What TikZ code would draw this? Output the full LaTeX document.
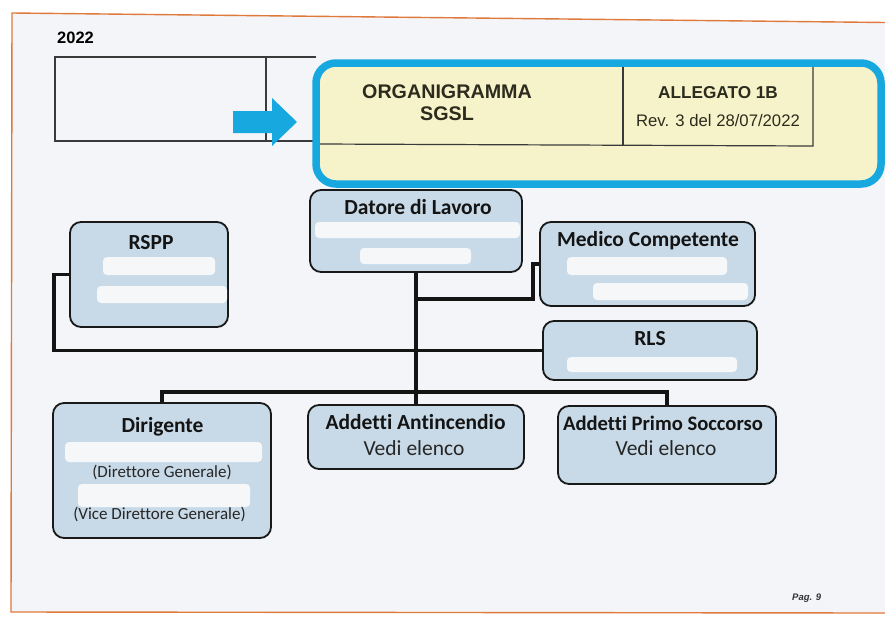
\documentclass[tikz,border=0pt]{standalone}
\usepackage{fontspec}
\setmainfont{Carlito}[Ligatures={NoCommon}]
\newfontfamily\arialf{Liberation Sans}

\definecolor{paper}{HTML}{F4F5F8}
\definecolor{boxfill}{HTML}{C8DAE7}
\definecolor{blot}{HTML}{F6F7F9}
\definecolor{hlblue}{HTML}{18A8E0}
\definecolor{hlyellow}{HTML}{F6F2CA}
\definecolor{ink}{HTML}{2C2C1E}
\definecolor{pageedge}{HTML}{E07A3C}
\definecolor{rule}{HTML}{3A3A3A}

\begin{document}
\begin{tikzpicture}[x=1pt,y=-1pt,
  orgbox/.style={draw=black!90, line width=1.8pt, fill=boxfill, rounded corners=11pt,
    inner sep=0pt, minimum width=#1},
  wire/.style={line width=3.4pt, draw=black!92},
  title/.style={font=\bfseries\fontsize{21.5}{25}\selectfont, inner sep=0pt, anchor=base, text=black!92},
  sub/.style={font=\fontsize{21.5}{25}\selectfont, inner sep=0pt, anchor=base, text=black!85},
  small/.style={font=\fontsize{17}{20}\selectfont, inner sep=0pt, anchor=base, text=black!85},
  redact/.style={fill=blot, draw=none, rounded corners=4pt},
  hdr/.style={font=\arialf\bfseries\fontsize{19.7}{23}\selectfont, inner sep=0pt, anchor=base, text=ink},
  hdrsmall/.style={font=\arialf\bfseries\fontsize{17.2}{20}\selectfont, inner sep=0pt, anchor=base, text=ink},
  hdrreg/.style={font=\arialf\fontsize{16.7}{20}\selectfont, inner sep=0pt, anchor=base, text=ink},
  tabline/.style={draw=rule, line width=1.2pt}
]
\useasboundingbox (0,0) rectangle (885,618);

% sheet
\fill[white] (0,0) rectangle (885,618);
\fill[paper] (12,13) -- (885,22.5) -- (885,613) -- (11,612) -- cycle;
\draw[pageedge, line width=1.4pt] (885,22.5) -- (12,13) -- (11,612) -- (885,613);

% year
\node[font=\arialf\bfseries\fontsize{16.5}{20}\selectfont, inner sep=0pt, anchor=base west, text=black] (year) at (57,43.5) {2022};

% header table, left part
\draw[tabline] (316,57) -- (55,57) -- (55,141) -- (316,141);
\draw[tabline] (266,57) -- (266,141);

% highlighted header area
\fill[hlyellow] (316,63) [rounded corners=20pt] rectangle (881,184);
\draw[tabline] (318,144) -- (813,146) -- (813,66);
\draw[tabline] (623,66) -- (623,145);
\draw[hlblue, line width=7.5pt, rounded corners=20pt] (316,63) rectangle (881,184);

\node[hdr] (org) at (447,98.5) {ORGANIGRAMMA};
\node[hdr] (sgsl) at (447,120) {SGSL};
\node[hdrsmall] (alleg) at (718,98.5) {ALLEGATO 1B};
\node[hdrreg] (rev) at (718,126) {Rev. 3 del 28/07/2022};

% arrow pointing at the header
\fill[hlblue] (233,111) -- (272,111) -- (272,98) -- (297,122) -- (272,146) -- (272,133) -- (233,133) -- cycle;

% organisation boxes
\node[orgbox=212pt, minimum height=82pt] (datore) at (416,231) {};
\node[orgbox=215pt, minimum height=84pt] (medico) at (647.5,264) {};
\node[orgbox=214pt, minimum height=59pt] (rls) at (650,350.5) {};
\node[orgbox=158pt, minimum height=105pt] (rspp) at (149,274.5) {};
\node[orgbox=218pt, minimum height=135pt] (dirig) at (162,470.5) {};
\node[orgbox=216pt, minimum height=64pt] (antinc) at (416,437) {};
\node[orgbox=218pt, minimum height=78pt] (soccorso) at (667,445) {};

% blanked-out names
\fill[redact] (315,222) rectangle (520,238);
\fill[redact] (360,248) rectangle (471,264);
\fill[redact] (567,257) rectangle (727,275);
\fill[redact] (593,283) rectangle (748,300);
\fill[redact] (567,357) rectangle (737,372);
\fill[redact] (103,257) rectangle (215,275);
\fill[redact] (97,286) rectangle (227,303);
\fill[redact] (65,442) rectangle (262,462);
\fill[redact] (78,484) rectangle (250,507);

% box texts
\node[title] (datoreT) at (418,214) {Datore di Lavoro};
\node[title] (medicoT) at (648,246) {Medico Competente};
\node[title] (rlsT) at (650,345) {RLS};
\node[title] (rsppT) at (151,249.5) {RSPP};
\node[title] (dirigT) at (162.5,432) {Dirigente};
\node[small] (dirigA) at (162,477) {(Direttore Generale)};
\node[small] (dirigB) at (159.5,519.5) {(Vice Direttore Generale)};
\node[title] (antincT) at (415.5,429) {Addetti Antincendio};
\node[sub] (antincS) at (414,455) {Vedi elenco};
\node[title, font=\bfseries\fontsize{20.6}{24}\selectfont] (soccorsoT) at (663,430) {Addetti Primo Soccorso};
\node[sub] (soccorsoS) at (666,455.5) {Vedi elenco};

% connectors
\coordinate (jM) at (416,299);
\coordinate (kM) at (533,299);
\coordinate (jR) at (416,350.5);
\coordinate (cL) at (54,350.5);
\coordinate (bus) at (416,392);

\draw[wire] (datore.south) -- (bus);
\draw[wire] (jM) -- (kM) |- (medico.west);
\draw[wire] (jR) -- (rls.west);
\draw[wire] (rspp.west) -| (cL) -- (jR);
\draw[wire] (dirig.north) -- (dirig.north |- bus) -- (soccorso.north |- bus) -- (soccorso.north);
\draw[wire] (bus) -- (antinc.north);

% page number
\node[font=\arialf\bfseries\itshape\fontsize{9.5}{11}\selectfont, inner sep=0pt, anchor=base west, text=black!80] (pag) at (792,600) {Pag. 9};
\end{tikzpicture}
\end{document}
